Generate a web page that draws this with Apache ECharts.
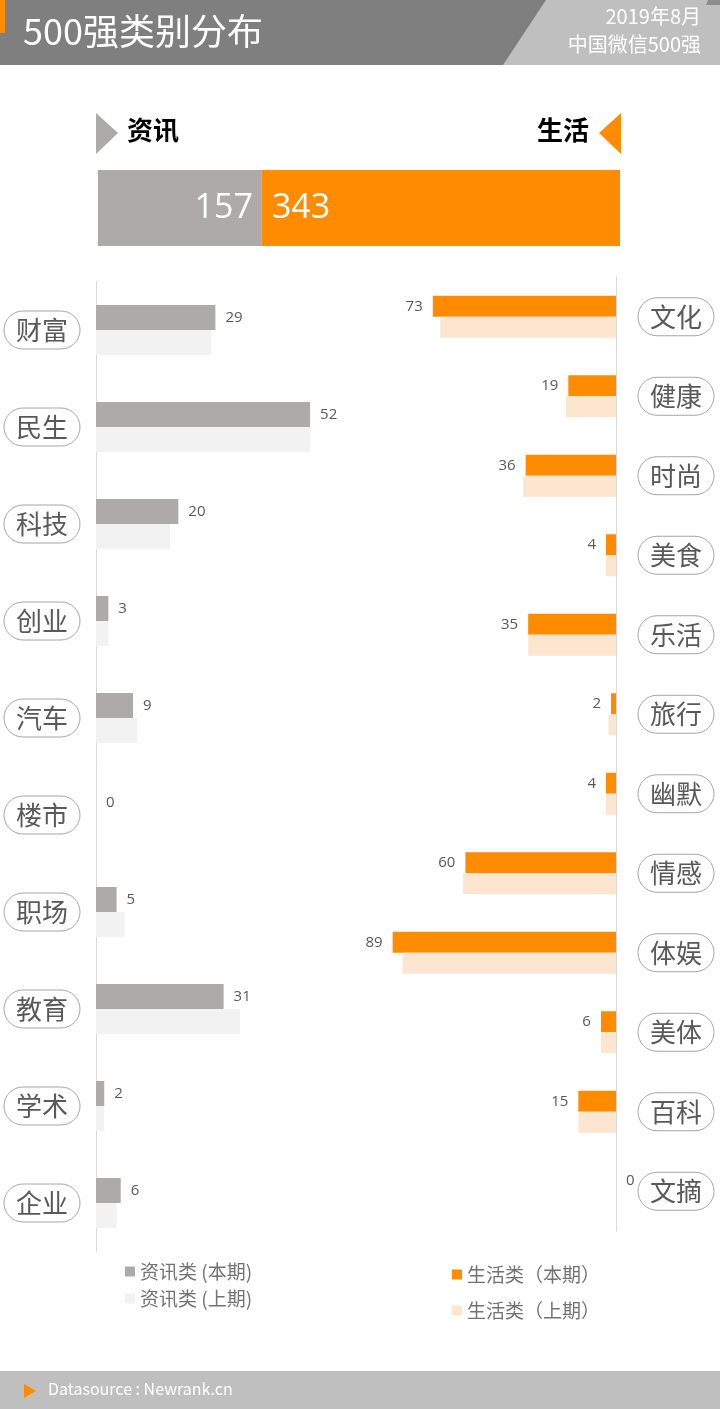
<!DOCTYPE html>
<html>
<head>
<meta charset="utf-8">
<title>500强类别分布</title>
<script src="https://cdn.jsdelivr.net/npm/echarts@6/dist/echarts.min.js"></script>
<style>
  html, body { margin: 0; padding: 0; background: #fff; }
  #chart { width: 720px; height: 1409px; }
</style>
</head>
<body>
<div id="chart"></div>
<script>
// ==================== 数据 ====================

// 资讯类
var infoCats = ['财富', '民生', '科技', '创业', '汽车', '楼市', '职场', '教育', '学术', '企业'];
var infoCur  = [29, 52, 20, 3, 9, 0, 5, 31, 2, 6];
var infoPrev = [28, 52, 18, 3, 10, 0, 7, 35, 2, 5];

// 生活类
var lifeCats = ['文化', '健康', '时尚', '美食', '乐活', '旅行', '幽默', '情感', '体娱', '美体', '百科', '文摘'];
var lifeCur  = [73, 19, 36, 4, 35, 2, 4, 60, 89, 6, 15, 0];
var lifePrev = [70, 20, 37, 4, 35, 3, 4, 61, 85, 6, 15, 0];

// 总数
var totalNames  = ['资讯', '生活'];
var totalValues = [157, 343];

var legendInfo = ['资讯类 (本期)', '资讯类 (上期)'];
var legendLife = ['生活类（本期）', '生活类（上期）'];

(function () {
  'use strict';

  var C = {
    gray: '#aeaaaa',
    grayLight: '#f2f2f2',
    orange: '#ff8c00',
    orangeLight: '#fde6cf',
    axis: '#d9d9d9',
    text: '#595959',
    header: '#7f7f7f',
    headerLight: '#bfbfbf'
  };
  var CJK = '"Noto Sans CJK SC", sans-serif';
  var NUM = '"Open Sans", "Noto Sans CJK SC", sans-serif';

  var chart = echarts.init(document.getElementById('chart'), null, { renderer: 'canvas' });

  // 胶囊形类别标签
  function pillLabel(margin) {
    return {
      margin: margin,
      fontFamily: CJK,
      fontSize: 26,
      lineHeight: 28,
      color: C.text,
      borderColor: '#a6a6a6',
      borderWidth: 1,
      borderRadius: 20,
      padding: [5, 12, 5, 12]
    };
  }

  function valueLabel(pos) {
    return {
      show: true,
      position: pos,
      distance: 10,
      fontFamily: NUM,
      fontSize: 15,
      color: C.text
    };
  }

  // 生活类 0 值标签显示在轴线右侧（与原图一致）
  var lifeCurData = lifeCur.map(function (v) {
    return v === 0 ? { value: v, label: { position: 'right' } } : v;
  });

  // ==================== 装饰图形 ====================

  var graphics = [
    { type: 'rect', shape: { x: 0, y: 0, width: 720, height: 65 }, style: { fill: C.header } },
    { type: 'polygon', shape: { points: [[546, 0], [720, 0], [720, 65], [503, 65]] }, style: { fill: C.headerLight } },
    { type: 'polygon', shape: { points: [[708, 0], [720, 0], [720, 5], [706, 5]] }, style: { fill: '#8c8c8c' } },
    { type: 'rect', shape: { x: 0, y: 0, width: 5, height: 33 }, style: { fill: C.orange } },
    { type: 'text', left: 23, top: 13, style: { text: '500强类别分布', fill: '#fff', font: '36px ' + CJK } },
    { type: 'text', right: 19, top: 6, style: { text: '2019年8月', fill: '#fff', font: '20px ' + CJK } },
    { type: 'text', right: 19, top: 34, style: { text: '中国微信500强', fill: '#fff', font: '20px ' + CJK } },

    { type: 'polygon', shape: { points: [[96, 113], [118, 133], [96, 154]] }, style: { fill: C.gray } },
    { type: 'text', left: 127, top: 117, style: { text: '资讯', fill: '#000', font: 'bold 26px ' + CJK } },
    { type: 'text', right: 131, top: 117, style: { text: '生活', fill: '#000', font: 'bold 26px ' + CJK } },
    { type: 'polygon', shape: { points: [[621, 113], [599, 133], [621, 154]] }, style: { fill: C.orange } },

    { type: 'rect', shape: { x: 0, y: 1371, width: 720, height: 38 }, style: { fill: C.headerLight } },
    { type: 'polygon', shape: { points: [[24, 1384], [36, 1391], [24, 1398]] }, style: { fill: C.orange } },
    { type: 'text', left: 48, top: 1381, style: { text: 'Datasource : Newrank.cn', fill: '#fff', font: '16px ' + CJK } }
  ];

  // ==================== 配置 ====================

  chart.setOption({
    animation: false,
    backgroundColor: '#fff',
    graphic: graphics,
    legend: [
      {
        data: legendInfo, orient: 'vertical', left: 125, top: 1262, padding: 0,
        icon: 'rect', itemWidth: 10, itemHeight: 10, itemGap: 8, itemTextGap: 8,
        selectedMode: false,
        textStyle: { fontFamily: CJK, fontSize: 19, color: '#737373' }
      },
      {
        data: legendLife, orient: 'vertical', left: 452, top: 1265, padding: 0,
        icon: 'rect', itemWidth: 10, itemHeight: 10, itemGap: 17, itemTextGap: 8,
        selectedMode: false,
        textStyle: { fontFamily: CJK, fontSize: 19, color: '#737373' }
      }
    ],
    grid: [
      { left: 98, right: 100, top: 170, height: 76 },
      { left: 96, width: 247, top: 281.5, height: 970 },
      { right: 104, width: 251, top: 277, height: 954 }
    ],
    xAxis: [
      { gridIndex: 0, type: 'value', min: 0, max: 500, show: false },
      { gridIndex: 1, type: 'value', min: 0, max: 60, show: false },
      { gridIndex: 2, type: 'value', min: 0, max: 100, inverse: true, show: false }
    ],
    yAxis: [
      { gridIndex: 0, type: 'category', data: ['总数'], show: false },
      {
        gridIndex: 1, type: 'category', data: infoCats, inverse: true, position: 'left',
        axisLine: { lineStyle: { color: C.axis } }, axisTick: { show: false },
        axisLabel: pillLabel(16)
      },
      {
        gridIndex: 2, type: 'category', data: lifeCats, inverse: true, position: 'right',
        axisLine: { lineStyle: { color: C.axis } }, axisTick: { show: false },
        axisLabel: pillLabel(22)
      }
    ],
    series: [
      {
        name: totalNames[0], type: 'bar', stack: 'total', xAxisIndex: 0, yAxisIndex: 0,
        data: [totalValues[0]], barWidth: '100%', itemStyle: { color: C.gray },
        label: { show: true, position: 'insideRight', distance: 9, color: '#fff', fontFamily: NUM, fontSize: 34 }
      },
      {
        name: totalNames[1], type: 'bar', stack: 'total', xAxisIndex: 0, yAxisIndex: 0,
        data: [totalValues[1]], barWidth: '100%', itemStyle: { color: C.orange },
        label: { show: true, position: 'insideLeft', distance: 10, color: '#fff', fontFamily: NUM, fontSize: 34 }
      },
      {
        name: legendInfo[0], type: 'bar', xAxisIndex: 1, yAxisIndex: 1,
        data: infoCur, barWidth: 25, barGap: '0%', itemStyle: { color: C.gray },
        label: valueLabel('right')
      },
      {
        name: legendInfo[1], type: 'bar', xAxisIndex: 1, yAxisIndex: 1,
        data: infoPrev, barWidth: 25, barGap: '0%', itemStyle: { color: C.grayLight }
      },
      {
        name: legendLife[0], type: 'bar', xAxisIndex: 2, yAxisIndex: 2,
        data: lifeCurData, barWidth: 21, barGap: '0%', itemStyle: { color: C.orange },
        label: valueLabel('left')
      },
      {
        name: legendLife[1], type: 'bar', xAxisIndex: 2, yAxisIndex: 2,
        data: lifePrev, barWidth: 21, barGap: '0%', itemStyle: { color: C.orangeLight }
      }
    ]
  });

  window.addEventListener('resize', function () { chart.resize(); });
})();
</script>
</body>
</html>
